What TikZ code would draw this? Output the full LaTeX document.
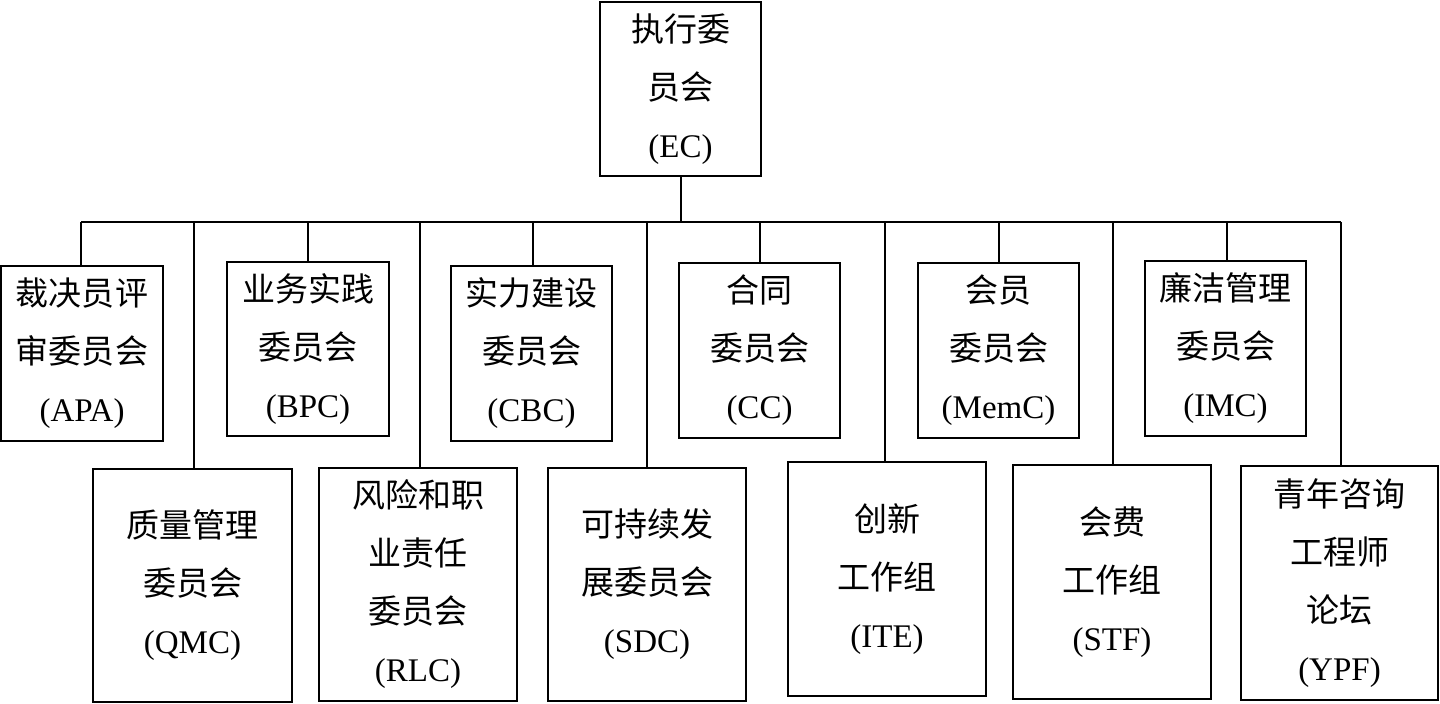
\documentclass[tikz,border=0pt]{standalone}
\usepackage{fontspec}
\setmainfont{Liberation Serif}
\newfontfamily\cjk{Noto Sans CJK SC}
\newcommand\zh[1]{{\cjk #1}}
\begin{document}
\begin{tikzpicture}[x=0.5pt,y=-0.5pt]
\tikzset{
  orgbox/.style={draw=black, line width=1pt, fill=white, inner sep=0pt, align=center,
    font=\fontsize{16.5}{29}\selectfont},
  link/.style={draw=black, line width=1pt}
}
\useasboundingbox (0,0) rectangle (1440,704);
\fill[white] (0,0) rectangle (1440,704);
% top
\node[orgbox, minimum width=80.5pt, minimum height=87pt] (EC) at (680.5,89) {\zh{执行委}\\\zh{员会}\\(EC)};
% first row
\node[orgbox, minimum width=81pt, minimum height=87.5pt] (APA) at (82,353.5) {\zh{裁决员评}\\\zh{审委员会}\\(APA)};
\node[orgbox, minimum width=81pt, minimum height=87pt] (BPC) at (308,349) {\zh{业务实践}\\\zh{委员会}\\(BPC)};
\node[orgbox, minimum width=80.5pt, minimum height=87.5pt] (CBC) at (531.5,353.5) {\zh{实力建设}\\\zh{委员会}\\(CBC)};
\node[orgbox, minimum width=80.5pt, minimum height=87.5pt] (CC) at (759.5,350.5) {\zh{合同}\\\zh{委员会}\\(CC)};
\node[orgbox, minimum width=80.5pt, minimum height=87.5pt] (MemC) at (998.5,350.5) {\zh{会员}\\\zh{委员会}\\(MemC)};
\node[orgbox, minimum width=80.5pt, minimum height=87.5pt] (IMC) at (1225.5,348.5) {\zh{廉洁管理}\\\zh{委员会}\\(IMC)};
% second row
\node[orgbox, minimum width=99.5pt, minimum height=116.5pt] (QMC) at (192.5,585.5) {\zh{质量管理}\\\zh{委员会}\\(QMC)};
\node[orgbox, minimum width=99pt, minimum height=116.5pt] (RLC) at (418,584.5) {\zh{风险和职}\\\zh{业责任}\\\zh{委员会}\\(RLC)};
\node[orgbox, minimum width=99pt, minimum height=116.5pt] (SDC) at (647,584.5) {\zh{可持续发}\\\zh{展委员会}\\(SDC)};
\node[orgbox, minimum width=99pt, minimum height=117pt] (ITE) at (887,579) {\zh{创新}\\\zh{工作组}\\(ITE)};
\node[orgbox, minimum width=99pt, minimum height=117pt] (STF) at (1112,582) {\zh{会费}\\\zh{工作组}\\(STF)};
\node[orgbox, minimum width=98.5pt, minimum height=117pt] (YPF) at (1339.5,583) {\zh{青年咨询}\\\zh{工程师}\\\zh{论坛}\\(YPF)};
% connectors
\coordinate (bus) at (680,222);
\draw[link] (EC.south) -- (EC.south |- bus);
\draw[link] ([xshift=-0.5pt]APA.north |- bus) -- ([xshift=0.75pt]YPF.north |- bus);
\foreach \n/\dx in {APA/-0.5pt,QMC/0.75pt,BPC/0pt,RLC/1pt,CBC/0.75pt,SDC/0pt,CC/0pt,ITE/-1pt,MemC/0.25pt,STF/0.5pt,IMC/0.75pt,YPF/0.75pt}
  \draw[link] ([xshift=\dx]\n.north |- bus) -- ([xshift=\dx]\n.north);
\end{tikzpicture}
\end{document}
